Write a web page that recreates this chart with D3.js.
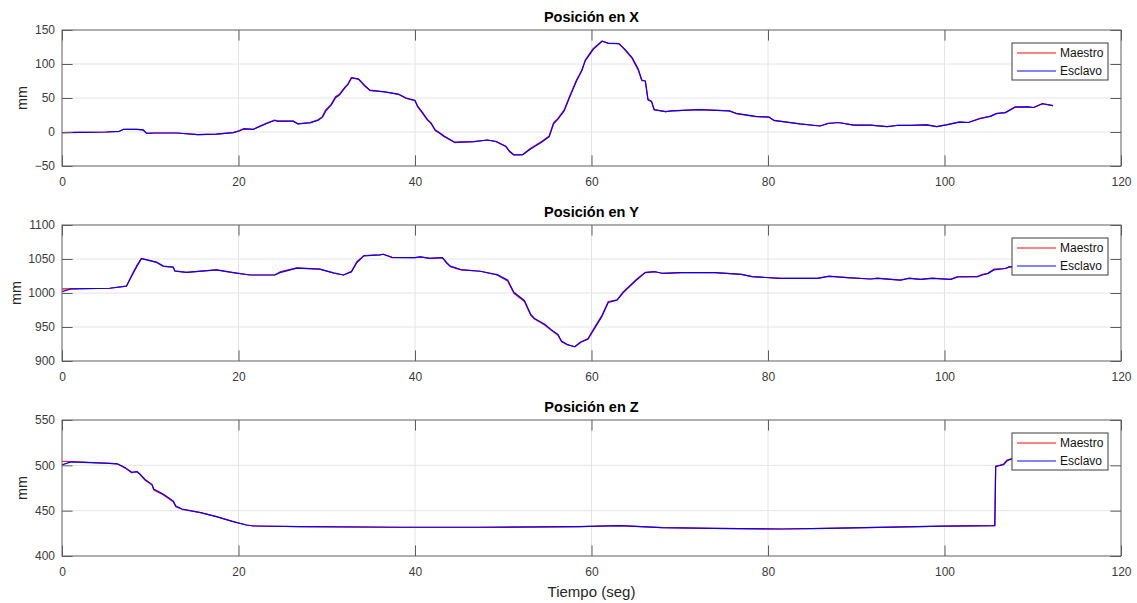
<!DOCTYPE html>
<html>
<head>
<meta charset="utf-8">
<script src="https://cdn.jsdelivr.net/npm/d3@7"></script>
<style>
  html, body { margin: 0; padding: 0; background: #fff; }
  svg { display: block; font-family: "Liberation Sans", Arial, sans-serif; }
</style>
</head>
<body>
<svg id="chart" width="1137" height="603"></svg>
<script>
// ---- Posición en X ----
const tX = [
  0, 2, 5, 6.5, 7, 8.5, 9.2, 9.6, 10.5, 13,
  15.4, 17.5, 19.4, 20.1, 20.6, 21.7, 22.3, 23.2, 24.1, 24.4,
  26.2, 26.7, 28.1, 29.0, 29.5, 29.9, 30.5, 31.0, 31.4, 32.1,
  32.4, 32.8, 33.6, 34.3, 34.9, 36.6, 38.1, 39.0, 40.0, 40.3,
  40.8, 41.4, 41.8, 42.3, 42.7, 43.3, 44.5, 46.7, 48.2, 49.2,
  50.3, 50.7, 51.2, 52.2, 53.1, 54.3, 55.2, 55.7, 56.2, 56.9,
  57.5, 58.3, 58.9, 59.3, 60.2, 61.2, 61.9, 63.1, 63.8, 64.6,
  65.3, 65.7, 66.1, 66.4, 66.8, 67.1, 68.4, 69.1, 72.2, 75.6,
  76.4, 78.6, 80.1, 80.7, 81.7, 83.6, 85.9, 86.8, 88.0, 89.7,
  91.6, 93.5, 94.6, 96.1, 98.0, 99.1, 100.2, 101.7, 102.7, 104.0,
  105.2, 105.9, 106.9, 108.0, 109.4, 110.1, 111.1, 112.3
];
const maestroX = [
  -1, -0.5, 0, 1, 4, 4, 3, -2, -1.5, -1.5,
  -4, -3, -1, 2, 5, 4, 8, 13, 17.6, 16,
  16, 12, 14, 18, 22.6, 33, 40.7, 52, 55, 66.7,
  70.5, 80, 77.5, 67.6, 60.8, 58.8, 55.4, 49.5, 46, 37,
  28.4, 17.6, 12.8, 2, -1, -7, -15.5, -14.2, -11.8, -14.2,
  -21.6, -29, -33.8, -33, -24, -14.2, -6, 13.7, 20, 32.4,
  52, 76.5, 91, 106, 123, 133.8, 130.4, 130, 120.6, 108.3,
  91, 75.5, 75, 47, 45, 32.4, 30, 31, 33, 31,
  27, 22.6, 22, 16.7, 15.3, 12, 8.8, 12.7, 14, 10,
  10, 8, 9.6, 9.6, 10.5, 8, 10.5, 15, 14, 20,
  23.5, 27.5, 28.5, 37, 37, 36, 41.7, 38.7
];
const esclavoX = [
  -1, -0.5, 0, 1, 4, 4, 3, -2, -1.5, -1.5,
  -4, -3, -1, 1.5, 4.5, 4, 7.5, 12.5, 17, 16,
  16, 12, 13.5, 17, 21.5, 31, 39.5, 50.5, 54, 65.5,
  70, 79.5, 78, 68.5, 61.5, 59, 55.8, 50, 46.5, 38,
  29.5, 18.5, 13.5, 3, -0.5, -6, -15, -14.2, -11.8, -14,
  -21, -28, -33.5, -33.5, -25, -15.5, -7, 12, 19, 31,
  50.5, 75, 90, 105, 121.5, 133.5, 130.8, 130, 121.5, 109.5,
  92.5, 76.5, 75, 48, 45, 33, 30, 31, 33, 31,
  27.5, 23, 22, 17, 15.3, 12, 8.8, 12.5, 14, 10,
  10, 8, 9.6, 9.6, 10.5, 8, 10.5, 14.5, 14, 19.5,
  23, 27, 28.5, 36.5, 37, 36, 41.5, 38.7
];

// ---- Posición en Y ----
const tY = [
  0, 1, 5.4, 7.3, 7.9, 8.5, 9.0, 10.7, 11.5, 12.6, 12.8,
  14.1, 17.5, 19.4, 21.3, 24.1, 24.7, 26.6, 29.2, 30.8, 31.9,
  32.8, 33.4, 34.2, 36.0, 36.4, 37.4, 40.0, 40.6, 41.7, 43.1,
  43.6, 44.0, 45.2, 47.4, 49.3, 50.5, 51.2, 52.4, 53.1, 53.5,
  54.7, 55.4, 56.2, 56.6, 57.3, 58.1, 58.8, 59.6, 60.4, 61.2,
  61.9, 62.9, 63.6, 65.0, 66.1, 67.2, 68.0, 70.2, 74.0, 77.0,
  78.2, 81.4, 85.6, 86.9, 89.0, 91.6, 92.4, 95.0, 96.0, 97.3,
  98.6, 100.7, 101.5, 103.7, 104.3, 104.9, 105.6, 106.9, 107.3, 109.0,
  110.5, 112.3
];
const maestroY = [
  1006, 1006.2, 1007, 1010, 1026.5, 1041, 1051, 1045, 1039, 1038, 1032,
  1030.4, 1034, 1030, 1026.5, 1026.5, 1031, 1037, 1035, 1029, 1026.5,
  1032, 1046, 1055, 1056, 1057, 1052, 1052, 1053, 1051, 1052,
  1043.6, 1038.7, 1034, 1032, 1026.5, 1017.6, 999.5, 987.5, 967.6, 962,
  953, 945.6, 938, 928.4, 923.5, 921, 928.4, 933, 950.5, 967.6,
  987.5, 990, 1002, 1019, 1030.4, 1031.3, 1029, 1030, 1030, 1027.5,
  1024, 1021.6, 1021.6, 1025, 1022.5, 1020.6, 1022, 1019, 1022, 1020,
  1022, 1020, 1024, 1024, 1027.5, 1029, 1035, 1036, 1038.7, 1039,
  1041, 1040
];
const esclavoY = [
  1002, 1006, 1007, 1010, 1025, 1039.5, 1050.5, 1045.5, 1039.5, 1038, 1032.5,
  1030.4, 1034, 1030, 1026.5, 1026.5, 1030, 1036.5, 1035, 1029.5, 1026.5,
  1031, 1044.5, 1054.5, 1056, 1057, 1052.5, 1052, 1053, 1051, 1052,
  1044.5, 1039.5, 1034.5, 1032, 1027, 1019, 1001, 989, 969, 963,
  954, 946.5, 939, 929.5, 924, 921, 927.5, 932, 949, 966,
  986, 989.5, 1000.5, 1018, 1030, 1031.3, 1029, 1030, 1030, 1027.5,
  1024, 1021.6, 1021.6, 1024.5, 1022.5, 1020.6, 1021.5, 1019, 1021.5, 1020,
  1021.5, 1020, 1023.5, 1024, 1026.5, 1028.5, 1034, 1036, 1038, 1039,
  1041, 1040
];

// ---- Posición en Z ----
const tZ = [
  0, 1, 5.4, 6.3, 6.5, 7.2, 7.9, 8.5, 8.9, 9.4, 10.2,
  10.4, 11.5, 12.6, 12.9, 13.6, 15.7, 17.5, 19.4, 20.9, 21.7,
  27.0, 38.3, 47.3, 58.6, 63.2, 68.0, 73.8, 81.6, 86.6, 99.9,
  105.7, 105.8, 106.3, 106.7, 107.1, 107.7, 109.5, 112.3
];
const maestroZ = [
  504.5, 504.2, 502.2, 501.5, 500.4, 496.7, 491.9, 493, 489.3, 483.8, 478.3,
  472.8, 467.3, 459.9, 454.4, 451.5, 447.8, 443.4, 437.9, 434.2, 433.1,
  432.4, 431.7, 431.7, 432.4, 433.5, 431.3, 430.5, 429.8, 430.5, 433,
  433.5, 499.3, 500.4, 501.5, 505.9, 507.7, 509, 509
];
const esclavoZ = [
  500.5, 503.8, 502.2, 501.5, 500.6, 497.2, 492.4, 493, 489.8, 484.5, 479,
  473.8, 468, 460.8, 455, 451.8, 447.8, 443.4, 437.9, 434.2, 433.1,
  432.4, 431.7, 431.7, 432.4, 433.5, 431.3, 430.5, 429.8, 430.5, 433,
  433.5, 498.5, 499.8, 500.8, 505, 507.2, 509, 509
];

// Axis settings for each subplot
const titles = ["Posición en X", "Posición en Y", "Posición en Z"];
const yDomains = [[-50, 150], [900, 1100], [400, 550]];
const yTickStep = [50, 50, 50];
const xTicks = [0, 20, 40, 60, 80, 100, 120];
const seriesNames = ["Maestro", "Esclavo"];
const seriesColors = ["#ff0000", "#0000ff"];
const legendColors = ["#ff5a5a", "#5a5aff"];

const panels = [
  { t: tX, series: [maestroX, esclavoX] },
  { t: tY, series: [maestroY, esclavoY] },
  { t: tZ, series: [maestroZ, esclavoZ] }
];

// Layout
const left = 62, right = 1121, plotH = 136;
const tops = [30, 225, 420];
const tickLen = 10.6;
const boxColor = "#5e5e5e";
const textColor = "#3a3a3a";
const gridColor = "#e4e4e4";

const svg = d3.select("#chart");
const x = d3.scaleLinear().domain([0, 120]).range([left, right]);

panels.forEach((p, i) => {
  const top = tops[i], bottom = top + plotH;
  const y = d3.scaleLinear().domain(yDomains[i]).range([bottom, top]);
  const yTicks = d3.range(yDomains[i][0], yDomains[i][1] + 0.001, yTickStep[i]);
  const g = svg.append("g");

  // grid
  g.append("g").selectAll("line").data(xTicks.slice(1, -1)).join("line")
    .attr("x1", d => x(d)).attr("x2", d => x(d))
    .attr("y1", top).attr("y2", bottom)
    .attr("stroke", gridColor).attr("stroke-width", 1);
  g.append("g").selectAll("line").data(yTicks.slice(1, -1)).join("line")
    .attr("x1", left).attr("x2", right)
    .attr("y1", d => y(d)).attr("y2", d => y(d))
    .attr("stroke", gridColor).attr("stroke-width", 1);

  // data lines
  const clipId = "clip" + i;
  svg.append("clipPath").attr("id", clipId).append("rect")
    .attr("x", left).attr("y", top).attr("width", right - left).attr("height", plotH);
  const line = d3.line().x((d, k) => x(p.t[k])).y(d => y(d));
  p.series.forEach((vals, s) => {
    g.append("path").datum(vals)
      .attr("clip-path", `url(#${clipId})`)
      .attr("fill", "none")
      .attr("stroke", seriesColors[s])
      .attr("stroke-width", 1.2)
      .attr("stroke-linejoin", "round")
      .attr("d", line);
  });

  // axes with inward ticks
  const axB = d3.axisBottom(x).tickValues(xTicks).tickSize(-tickLen).tickPadding(11).tickFormat(d3.format("d"));
  const axT = d3.axisTop(x).tickValues(xTicks).tickSize(-tickLen).tickFormat("");
  const axL = d3.axisLeft(y).tickValues(yTicks).tickSize(-tickLen).tickPadding(7).tickFormat(d3.format("d"));
  const axR = d3.axisRight(y).tickValues(yTicks).tickSize(-tickLen).tickFormat("");

  const styleAxis = sel => {
    sel.select(".domain").remove();
    sel.selectAll(".tick line").attr("stroke", boxColor);
    sel.selectAll(".tick text").attr("fill", textColor).style("font-size", "12px")
      .style("font-family", "'Liberation Sans', Arial, sans-serif");
  };
  g.append("g").attr("transform", `translate(0,${bottom})`).call(axB).call(styleAxis);
  g.append("g").attr("transform", `translate(0,${top})`).call(axT).call(styleAxis);
  g.append("g").attr("transform", `translate(${left},0)`).call(axL).call(styleAxis);
  g.append("g").attr("transform", `translate(${right},0)`).call(axR).call(styleAxis);

  // box
  g.append("rect").attr("x", left).attr("y", top)
    .attr("width", right - left).attr("height", plotH)
    .attr("fill", "none").attr("stroke", boxColor).attr("stroke-width", 1);

  // title
  g.append("text").attr("x", (left + right) / 2).attr("y", top - 8)
    .attr("text-anchor", "middle").attr("font-weight", "bold")
    .style("font-size", "14.5px").attr("fill", "#000").text(titles[i]);

  // y label
  const labX = i === 1 ? 16 : 22;
  g.append("text")
    .attr("transform", `translate(${labX},${(top + bottom) / 2}) rotate(-90)`)
    .attr("text-anchor", "middle").attr("dy", "0.35em")
    .style("font-size", "14.5px").attr("fill", "#262626").text("mm");

  // legend
  const lg = g.append("g").attr("transform", `translate(1012,${top + 13})`);
  lg.append("rect").attr("x", 0).attr("y", 0).attr("width", 96).attr("height", 37)
    .attr("fill", "#fff").attr("stroke", "#3c3c3c").attr("stroke-width", 1);
  seriesNames.forEach((name, s) => {
    const ly = 10 + s * 18;
    lg.append("line").attr("x1", 5).attr("x2", 44).attr("y1", ly).attr("y2", ly)
      .attr("stroke", legendColors[s]).attr("stroke-width", 1.5);
    lg.append("text").attr("x", 48).attr("y", ly).attr("dy", "0.35em")
      .style("font-size", "12px").attr("fill", "#111").text(name);
  });
});

// x label
svg.append("text").attr("x", (left + right) / 2).attr("y", 597)
  .attr("text-anchor", "middle").style("font-size", "15px").attr("fill", "#262626")
  .text("Tiempo (seg)");
</script>
</body>
</html>
